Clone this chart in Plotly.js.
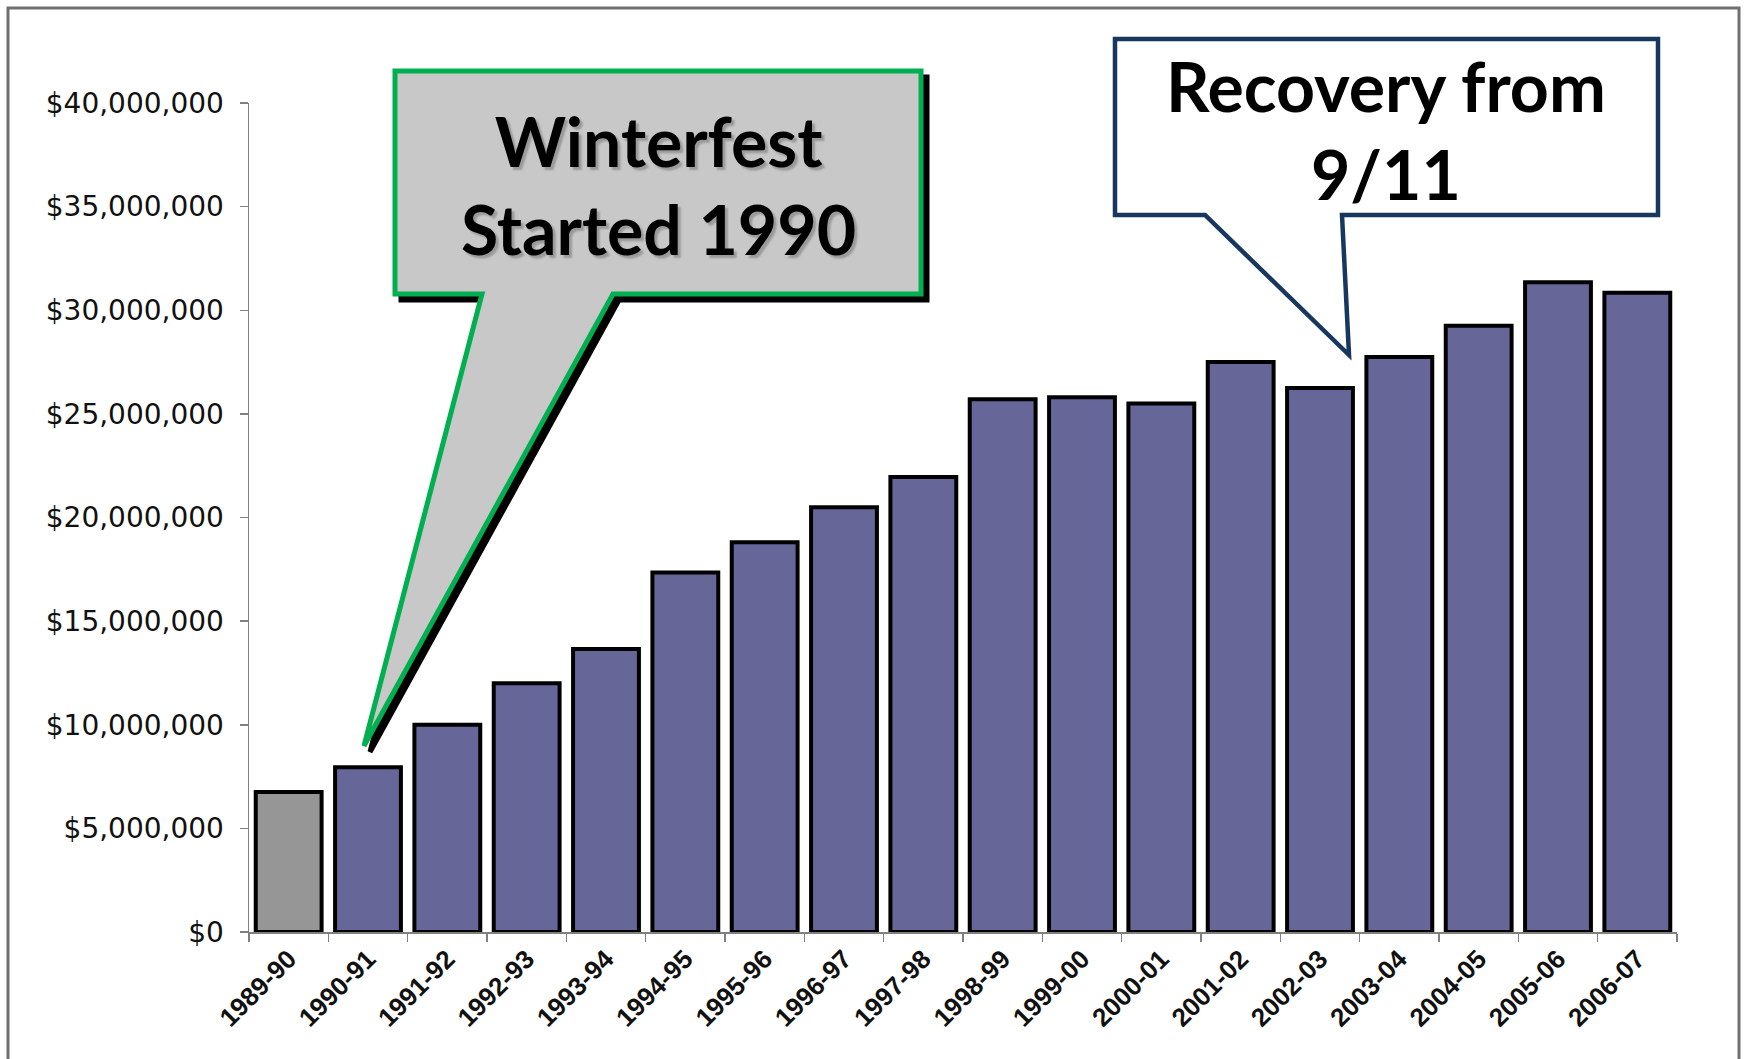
<!DOCTYPE html>
<html><head><meta charset="utf-8">
<script src="https://cdn.plot.ly/plotly-3.0.1.min.js"></script>
<style>html,body{margin:0;padding:0;background:#fff}</style>
</head><body>
<div id="chart" style="width:1744px;height:1059px"></div>
<script>
// ---- data ----
const seasons = ["1989-90","1990-91","1991-92","1992-93","1993-94","1994-95","1995-96","1996-97","1997-98",
                 "1998-99","1999-00","2000-01","2001-02","2002-03","2003-04","2004-05","2005-06","2006-07"];
const revenue = [6750000, 7950000, 10000000, 12000000, 13650000, 17350000, 18800000, 20500000, 21950000,
                 25700000, 25800000, 25500000, 27500000, 26250000, 27750000, 29250000, 31350000, 30850000];
const yTickValues = [0, 5000000, 10000000, 15000000, 20000000, 25000000, 30000000, 35000000, 40000000];
const yTickLabels = ["$0","$5,000,000","$10,000,000","$15,000,000","$20,000,000","$25,000,000","$30,000,000","$35,000,000","$40,000,000"];
const calloutWinterfest = ["Winterfest", "Started 1990"];
const calloutRecovery = ["Recovery from", "9/11"];

// ---- geometry helpers (figure pixels -> paper coords) ----
const W = 1744, H = 1059;
const M = {l: 249, r: 67, t: 103, b: 127};
const PW = W - M.l - M.r, PH = H - M.t - M.b;
const px = x => (x - M.l) / PW;
const py = y => (H - M.b - y) / PH;
function pathFrom(points, dx = 0, dy = 0) {
  return points.map((p, i) => (i ? 'L' : 'M') + px(p[0] + dx).toFixed(5) + ',' + py(p[1] + dy).toFixed(5)).join(' ') + ' Z';
}
const greenPts = [[395,71],[921,71],[921,294],[613,294],[364,746],[482,294],[395,294]];
const navyPts  = [[1115,39],[1658,39],[1658,215],[1342,215],[1349,355],[1205,215],[1115,215]];

const colors = seasons.map((s, i) => i === 0 ? '#969696' : '#666699');

const trace = {
  type: 'bar', x: seasons, y: revenue,
  marker: {color: colors, line: {color: '#000000', width: 4}},
  hoverinfo: 'x+y'
};

const layout = {
  width: W, height: H,
  margin: M,
  paper_bgcolor: '#ffffff', plot_bgcolor: '#ffffff',
  showlegend: false,
  bargap: 0.17,
  xaxis: {
    type: 'category', tickson: 'boundaries', ticks: 'outside', ticklen: 8, tickwidth: 1.5,
    tickcolor: '#808080', showline: true, linecolor: '#808080', linewidth: 1.5,
    showgrid: false, tickangle: -45,
    tickfont: {family: 'Liberation Sans, Arial, sans-serif', size: 26, color: '#111', weight: 'bold'}
  },
  yaxis: {
    range: [0, 40000000], tickvals: yTickValues, ticktext: yTickLabels,
    ticks: 'outside', ticklen: 8, tickwidth: 1.5, tickcolor: '#808080',
    showline: true, linecolor: '#808080', linewidth: 1.5, showgrid: false, zeroline: false,
    ticklabelstandoff: 10,
    tickfont: {family: 'DejaVu Sans, sans-serif', size: 28, color: '#111'}
  },
  shapes: [
    {type: 'rect', xref: 'paper', yref: 'paper', x0: px(8), x1: px(1739), y0: py(1080), y1: py(8),
     line: {color: '#707070', width: 3}, fillcolor: 'rgba(0,0,0,0)', layer: 'below'},
    {type: 'path', xref: 'paper', yref: 'paper', path: pathFrom(greenPts, 6, 6),
     fillcolor: '#000000', line: {color: '#000000', width: 5}},
    {type: 'path', xref: 'paper', yref: 'paper', path: pathFrom(greenPts),
     fillcolor: '#c8c8c8', line: {color: '#00b050', width: 5}},
    {type: 'path', xref: 'paper', yref: 'paper', path: pathFrom(navyPts),
     fillcolor: '#ffffff', line: {color: '#17375e', width: 4.5}}
  ],
  annotations: [
    {xref: 'paper', yref: 'paper', x: px(658), y: py(185), xanchor: 'center', yanchor: 'middle',
     showarrow: false, text: calloutWinterfest.join('<br>'), align: 'center',
     font: {family: 'Lato, Open Sans, sans-serif', size: 68, color: '#000', weight: 'bold',
            shadow: '3px 3px 2px #9a9a9a'}},
    {xref: 'paper', yref: 'paper', x: px(1386), y: py(130), xanchor: 'center', yanchor: 'middle',
     showarrow: false, text: calloutRecovery.join('<br>'), align: 'center',
     font: {family: 'Lato, Open Sans, sans-serif', size: 68, color: '#000', weight: 'bold'}}
  ]
};

Plotly.newPlot('chart', [trace], layout, {displayModeBar: false, staticPlot: true});
</script>
</body></html>
